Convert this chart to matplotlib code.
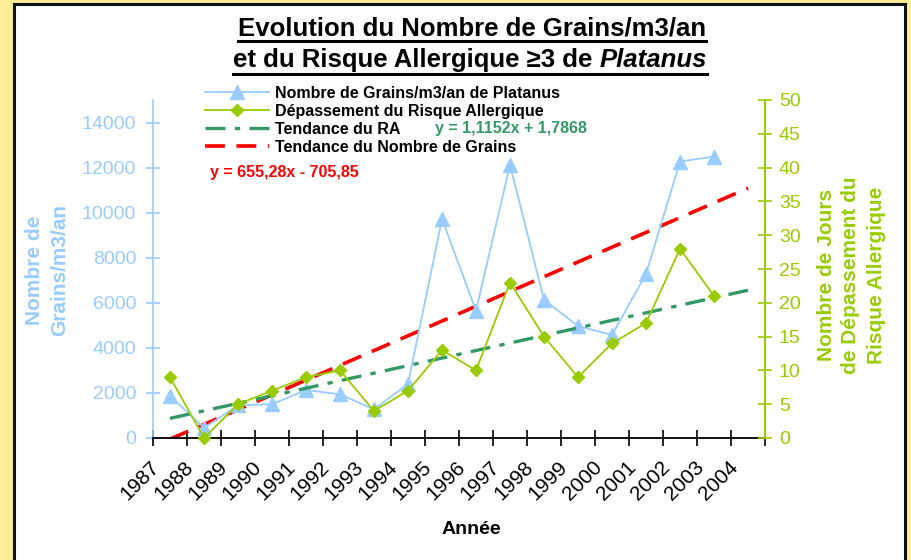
import matplotlib
matplotlib.use("Agg")
import matplotlib.pyplot as plt
from matplotlib.lines import Line2D
from matplotlib.patches import Rectangle
import matplotlib.transforms as mtransforms
import numpy as np

# ---------------- data ----------------
years = [str(y) for y in range(1987, 2005)]
grains = [1870, 450, 1450, 1500, 2130, 1940, 1270, 2400, 9720, 5650,
          12120, 6130, 4970, 4570, 7280, 12270, 12490]
depassement = [9, 0, 5, 7, 9, 10, 4, 7, 13, 10, 23, 15, 9, 14, 17, 28, 21]
trend_grains = (655.28, -705.85)
trend_ra = (1.1152, 1.7868)
left_ticks = [0, 2000, 4000, 6000, 8000, 10000, 12000, 14000]
right_ticks = [0, 5, 10, 15, 20, 25, 30, 35, 40, 45, 50]

BLUE = "#99CCFF"
LGREEN = "#99CC00"
DGREEN = "#339966"
RED = "#FF0000"
YELLOW = "#FFEC97"

W, H = 911, 560
plt.rcParams['font.family'] = ['Liberation Sans', 'DejaVu Sans']

fig = plt.figure(figsize=(W / 100, H / 100), dpi=100, facecolor=YELLOW)

# white panel with black border
fig.patches.append(Rectangle((14 / W, -0.05), (905 - 14) / W, 1.05 - 4 / H,
                             transform=fig.transFigure, facecolor="white",
                             edgecolor="#111111", linewidth=2.2, zorder=-10))

ax = fig.add_axes([153 / W, (H - 438) / H, (765 - 153) / W, (438 - 100) / H])
ax.set_facecolor("none")
ax2 = ax.twinx()
ax.set_zorder(1)
ax2.set_zorder(2)
ax2.set_facecolor("none")

x = np.arange(1, len(grains) + 1)
xt = np.arange(1, 19)

ax.set_xlim(0.5, 18.5)
ax.set_ylim(0, 15000)
ax2.set_ylim(0, 50)

# trend lines
tg = trend_grains[0] * xt + trend_grains[1]
tr = trend_ra[0] * xt + trend_ra[1]
l_tg, = ax.plot(xt, tg, color=RED, lw=2.6, dashes=(5.5, 3.2), zorder=3)
l_tr, = ax2.plot(xt, tr, color=DGREEN, lw=2.4, dashes=(6, 2.8, 1.6, 2.8), zorder=3)

# data lines
l_g, = ax.plot(x, grains, color=BLUE, lw=1.3, marker="^", markersize=9.5,
               markerfacecolor=BLUE, markeredgecolor=BLUE, zorder=4)
l_d, = ax2.plot(x, depassement, color=LGREEN, lw=1.3, marker="D", markersize=6.5,
                markerfacecolor=LGREEN, markeredgecolor=LGREEN, zorder=5, clip_on=False)

# spines
for a in (ax, ax2):
    a.spines['top'].set_visible(False)
ax.spines['left'].set_color(BLUE)
ax.spines['left'].set_linewidth(1.2)
ax.spines['right'].set_visible(False)
ax2.spines['left'].set_visible(False)
ax2.spines['bottom'].set_visible(False)
ax2.spines['right'].set_color(LGREEN)
ax2.spines['right'].set_linewidth(1.5)
ax.spines['bottom'].set_color("black")
ax.spines['bottom'].set_linewidth(1.3)
ax.spines['bottom'].set_zorder(6)

# y ticks
ax.set_yticks(left_ticks)
ax.set_yticklabels([str(v) for v in left_ticks])
ax.tick_params(axis='y', colors=BLUE, direction='inout', length=10, width=1.2,
               labelsize=14, pad=7)
ax2.set_yticks(right_ticks)
ax2.tick_params(axis='y', colors=LGREEN, direction='inout', length=10, width=1.2,
                labelsize=14, pad=5)

# x ticks: boundaries as major ticks, labels at category centres
ax.set_xticks(np.arange(0.5, 18.6, 1.0))
ax.set_xticklabels([])
ax.tick_params(axis='x', which='major', colors='black', direction='inout',
               length=12, width=1.2)
ax.set_xticks(xt, minor=True)
ax.set_xticklabels(years, minor=True, rotation=45, ha='right', va='top',
                   rotation_mode='anchor', fontsize=15)
ax.tick_params(axis='x', which='minor', length=0, pad=14)
offset = mtransforms.ScaledTranslation(-20 / 100, 0, fig.dpi_scale_trans)
for lab in ax.get_xticklabels(minor=True):
    lab.set_transform(lab.get_transform() + offset)

# axis labels
fig.text(47 / W, 1 - 270 / H, "Nombre de\nGrains/m3/an", rotation=90, color=BLUE,
         fontsize=15, fontweight='bold', ha='center', va='center', linespacing=1.4)
fig.text(851 / W, 1 - 275 / H, "Nombre de Jours\nde Dépassement du\nRisque Allergique",
         rotation=90, color=LGREEN, fontsize=15, fontweight='bold', ha='center',
         va='center', linespacing=1.4)
fig.text(471 / W, 1 - 529 / H, "Année", fontsize=14, fontweight='bold',
         ha='center', va='center')

# legend
handles = [l_g, l_d, Line2D([], [], color=DGREEN, lw=2.4, dashes=(6, 2.8, 1.6, 2.8)),
           Line2D([], [], color=RED, lw=2.6, dashes=(5.5, 3.2))]
labels = ["Nombre de Grains/m3/an de Platanus", "Dépassement du Risque Allergique",
          "Tendance du RA", "Tendance du Nombre de Grains"]
leg = fig.legend(handles, labels, loc='upper left',
                 bbox_to_anchor=(205 / W, 1 - 85.5 / H), frameon=False,
                 prop={'weight': 'bold', 'size': 11.5}, handlelength=4.0,
                 handletextpad=0.4, labelspacing=0.2, borderpad=0,
                 borderaxespad=0)
leg.set_zorder(10)

# trend equations
fig.text(435 / W, 1 - 129 / H, "y = 1,1152x + 1,7868", color=DGREEN, fontsize=11.5,
         fontweight='bold', ha='left', va='center')
fig.text(210 / W, 1 - 172 / H, "y = 655,28x - 705,85", color=RED, fontsize=11.5,
         fontweight='bold', ha='left', va='center')

# title (underlined, mixed italic)
fig.canvas.draw()
renderer = fig.canvas.get_renderer()
TS = 18.5
t1 = fig.text(472 / W, 1 - 36 / H, "Evolution du Nombre de Grains/m3/an", fontsize=TS,
              fontweight='bold', ha='center', va='baseline')
p1 = fig.text(0, 1 - 67 / H, "et du Risque Allergique \u22653 de ", fontsize=TS,
              fontweight='bold', ha='left', va='baseline')
p2 = fig.text(0, 1 - 67 / H, "Platanus", fontsize=TS, fontweight='bold',
              style='italic', ha='left', va='baseline')
cx = 470
w1 = p1.get_window_extent(renderer).width
w2 = p2.get_window_extent(renderer).width
start = cx - (w1 + w2) / 2
p1.set_x(start / W)
p2.set_x((start + w1) / W)
bb1 = t1.get_window_extent(renderer)
fig.add_artist(Line2D([bb1.x0 / W, bb1.x1 / W], [1 - 41 / H, 1 - 41 / H],
                      color='black', lw=2.2, transform=fig.transFigure))
fig.add_artist(Line2D([start / W, (start + w1 + w2) / W], [1 - 73.5 / H, 1 - 73.5 / H],
                      color='black', lw=2.2, transform=fig.transFigure))

fig.savefig("out.png", dpi=100, facecolor=YELLOW)
